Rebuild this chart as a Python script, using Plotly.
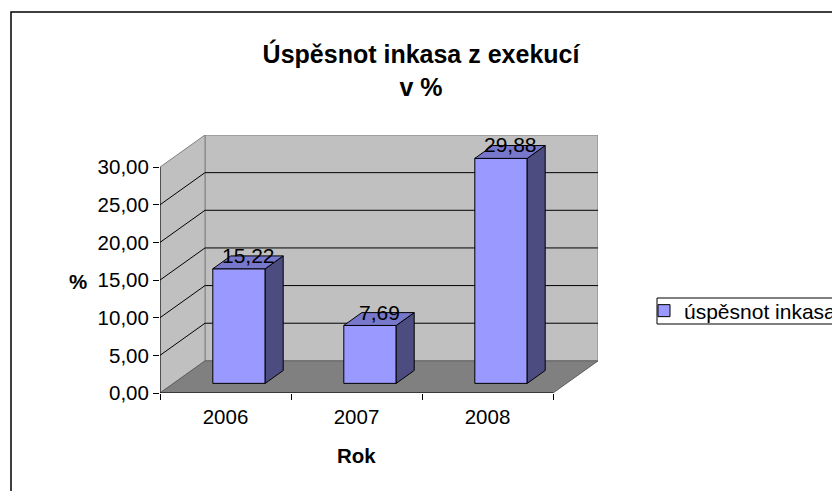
import plotly.graph_objects as go

# ---- data ----
years = ["2006", "2007", "2008"]
values = [15.22, 7.69, 29.88]
y_ticks = [0, 5, 10, 15, 20, 25, 30]
series_name = "úspěsnot inkasa"
title_text = "Úspěsnot inkasa z exekucí<br>v %"
x_title = "Rok"
y_title = "%"

# ---- page / plot-area geometry (reference pixel coords) ----
OFF = 8                      # default body margin of the html page
W, H = 840 - OFF, 491 - OFF
PL, PR, PT, PB = 160, 598, 135, 393   # plot area in page pixels

def px_x(px):
    return (px - PL) / (PR - PL)

def px_y(py):
    return (PB - py) / (PB - PT)

# ---- 3D look (pseudo-perspective, in axis units) ----
NCAT = len(years)
YMAX = 30
DX = 45 / 131.0      # depth offset along x (category units)
DY = 32 / 7.5        # depth offset along y (value units)
BW = 0.4             # bar width (category units)
DF, DB = 0.3, 0.7    # bar front/back depth fraction

FONT = "Liberation Sans, Arial, sans-serif"
FRONT = "#9999FF"
TOP = "#7777CC"
SIDE = "#4C4C80"
WALL = "#C0C0C0"
FLOOR = "#808080"
EDGE = "#808080"

def fmt(v):
    return f"{v:.2f}".replace(".", ",")

fig = go.Figure()

shapes = []
# back wall
shapes.append(dict(type="rect", xref="x", yref="y", x0=DX, x1=NCAT + DX, y0=DY, y1=YMAX + DY,
                   fillcolor=WALL, line=dict(color=EDGE, width=1), layer="below"))
# left wall
shapes.append(dict(type="path", xref="x", yref="y",
                   path=f"M 0 0 L {DX} {DY} L {DX} {YMAX + DY} L 0 {YMAX} Z",
                   fillcolor=WALL, line=dict(color=EDGE, width=1), layer="below"))
# floor
shapes.append(dict(type="path", xref="x", yref="y",
                   path=f"M 0 0 L {NCAT} 0 L {NCAT + DX} {DY} L {DX} {DY} Z",
                   fillcolor=FLOOR, line=dict(color="#606060", width=1), layer="below"))
# gridlines on back and left wall
for v in y_ticks[1:-1]:
    shapes.append(dict(type="line", xref="x", yref="y", x0=DX, x1=NCAT + DX, y0=v + DY, y1=v + DY,
                       line=dict(color="black", width=1), layer="below"))
    shapes.append(dict(type="line", xref="x", yref="y", x0=0, x1=DX, y0=v, y1=v + DY,
                       line=dict(color="black", width=1), layer="below"))
# axis lines
shapes.append(dict(type="line", xref="x", yref="y", x0=0, x1=0, y0=0, y1=YMAX,
                   line=dict(color="black", width=1)))
shapes.append(dict(type="line", xref="x", yref="y", x0=0, x1=NCAT, y0=0, y1=0,
                   line=dict(color="black", width=1)))
# outer chart border
shapes.append(dict(type="rect", xref="paper", yref="paper",
                   x0=px_x(11), x1=px_x(860), y0=px_y(510), y1=px_y(12),
                   line=dict(color="black", width=1.5), fillcolor="rgba(0,0,0,0)"))
# legend frame
shapes.append(dict(type="rect", xref="paper", yref="paper",
                   x0=px_x(657), x1=px_x(860), y0=px_y(324), y1=px_y(298),
                   line=dict(color="black", width=1), fillcolor="white", layer="above"))

# bar side and top faces
for i, v in enumerate(values):
    x0 = i + 0.5 - BW / 2 + DF * DX
    x1 = x0 + BW
    yb = DF * DY
    yt = v + DF * DY
    ddx = (DB - DF) * DX
    ddy = (DB - DF) * DY
    fig.add_trace(go.Scatter(
        x=[x1, x1 + ddx, x1 + ddx, x1, x1], y=[yb, yb + ddy, yt + ddy, yt, yb],
        fill="toself", fillcolor=SIDE, mode="lines", line=dict(color="black", width=1),
        showlegend=False, hoverinfo="skip"))
    fig.add_trace(go.Scatter(
        x=[x0, x1, x1 + ddx, x0 + ddx, x0], y=[yt, yt, yt + ddy, yt + ddy, yt],
        fill="toself", fillcolor=TOP, mode="lines", line=dict(color="black", width=1),
        showlegend=False, hoverinfo="skip"))

# bar front faces
fig.add_trace(go.Bar(
    x=[i + 0.5 + DF * DX for i in range(NCAT)], y=values, base=DF * DY, width=BW,
    marker=dict(color=FRONT, line=dict(color="black", width=1)),
    name=series_name, showlegend=True, hoverinfo="skip"))

annotations = []
for i, v in enumerate(values):
    annotations.append(dict(x=i + 0.5 + 0.5 * DX, y=v + 0.5 * DY, xref="x", yref="y",
                            text=fmt(v), showarrow=False, xanchor="center", yanchor="middle",
                            yshift=7, font=dict(family=FONT, size=21, color="black")))
annotations.append(dict(x=NCAT / 2, y=px_y(455), xref="x", yref="paper",
                        text=f"<b>{x_title}</b>", showarrow=False,
                        xanchor="center", yanchor="middle",
                        font=dict(family=FONT, size=20.5, color="black")))
annotations.append(dict(x=px_x(78), y=px_y(281), xref="paper", yref="paper",
                        text=f"<b>{y_title}</b>", showarrow=False,
                        xanchor="center", yanchor="middle",
                        font=dict(family=FONT, size=20.5, color="black")))

fig.update_layout(
    width=W, height=H, autosize=False,
    margin=dict(l=PL - OFF, r=W - (PR - OFF), t=PT - OFF, b=H - (PB - OFF), autoexpand=False),
    paper_bgcolor="white", plot_bgcolor="rgba(0,0,0,0)",
    separators=",.",
    title=dict(text=f"<b>{title_text}</b>", x=(421 - OFF) / W, xanchor="center",
               y=1 - 55 / H, yanchor="top", xref="container", yref="container",
               font=dict(family=FONT, size=25, color="black")),
    xaxis=dict(range=[0, NCAT + DX], tickmode="array",
               tickvals=[i + 0.5 for i in range(NCAT)], ticktext=years,
               ticks="", showgrid=False, zeroline=False, showline=False,
               ticklabelstandoff=9,
               tickfont=dict(family=FONT, size=20.5, color="black"),
               minor=dict(tickmode="array", tickvals=list(range(NCAT + 1)), ticks="outside",
                          ticklen=6, tickcolor="black", tickwidth=1, showgrid=False)),
    yaxis=dict(range=[0, YMAX + DY], tickmode="array", tickvals=y_ticks,
               ticktext=[fmt(t) for t in y_ticks],
               ticks="outside", ticklen=6, tickcolor="black", showgrid=False,
               zeroline=False, showline=False,
               tickfont=dict(family=FONT, size=20.5, color="black")),
    legend=dict(x=px_x(644), y=px_y(311), xanchor="left", yanchor="middle",
                borderwidth=0, bgcolor="rgba(0,0,0,0)",
                font=dict(family=FONT, size=21, color="black"), itemwidth=30),
    shapes=shapes, annotations=annotations, showlegend=True,
)

fig.write_html("out.html")
